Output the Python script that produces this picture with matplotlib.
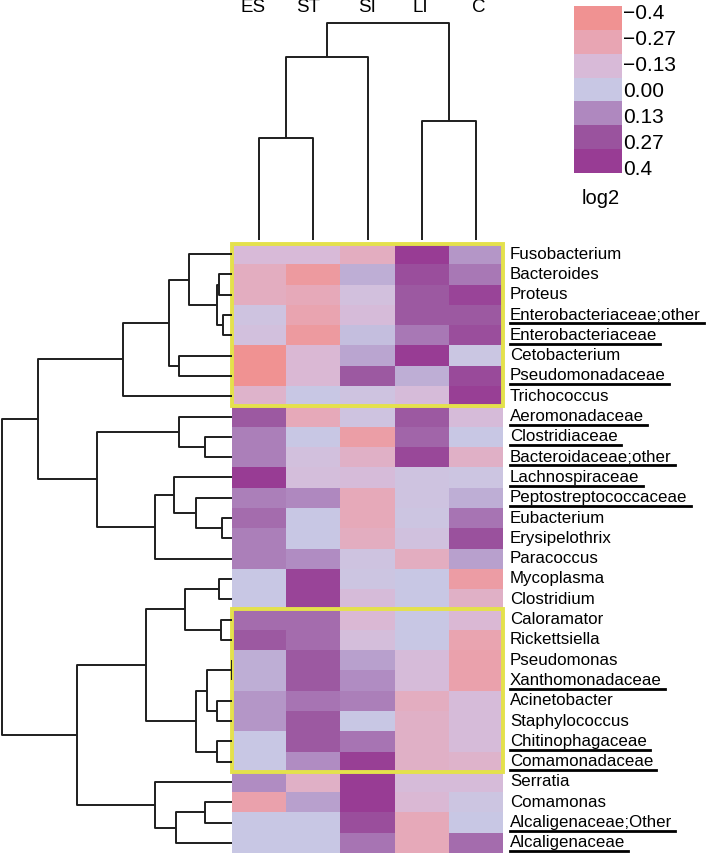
import numpy as np
import matplotlib
matplotlib.use("Agg")
import matplotlib.pyplot as plt
from matplotlib.colors import LinearSegmentedColormap
from matplotlib.lines import Line2D

plt.rcParams['font.family'] = ['Liberation Sans', 'DejaVu Sans']

# Данные
columns = ['ES', 'ST', 'SI', 'LI', 'C']
rows = ['Fusobacterium', 'Bacteroides', 'Proteus', 'Enterobacteriaceae;other',
        'Enterobacteriaceae', 'Cetobacterium', 'Pseudomonadaceae', 'Trichococcus',
        'Aeromonadaceae', 'Clostridiaceae', 'Bacteroidaceae;other', 'Lachnospiraceae',
        'Peptostreptococcaceae', 'Eubacterium', 'Erysipelothrix', 'Paracoccus',
        'Mycoplasma', 'Clostridium', 'Caloramator', 'Rickettsiella', 'Pseudomonas',
        'Xanthomonadaceae', 'Acinetobacter', 'Staphylococcus', 'Chitinophagaceae',
        'Comamonadaceae', 'Serratia', 'Comamonas', 'Alcaligenaceae;Other', 'Alcaligenaceae']
underlined = {'Enterobacteriaceae;other', 'Enterobacteriaceae', 'Pseudomonadaceae',
              'Aeromonadaceae', 'Clostridiaceae', 'Bacteroidaceae;other', 'Lachnospiraceae',
              'Peptostreptococcaceae', 'Xanthomonadaceae', 'Chitinophagaceae',
              'Comamonadaceae', 'Alcaligenaceae;Other', 'Alcaligenaceae'}

values = np.array([
    [-0.13, -0.13, -0.22, 0.40, 0.10],
    [-0.22, -0.35, 0.05, 0.30, 0.17],
    [-0.22, -0.25, -0.08, 0.25, 0.35],
    [-0.05, -0.28, -0.12, 0.25, 0.25],
    [-0.08, -0.35, 0.02, 0.17, 0.30],
    [-0.40, -0.15, 0.07, 0.40, -0.02],
    [-0.40, -0.15, 0.25, 0.05, 0.32],
    [-0.18, 0.00, -0.05, -0.12, 0.38],
    [0.25, -0.25, -0.05, 0.25, -0.12],
    [0.15, 0.00, -0.32, 0.22, 0.00],
    [0.15, -0.08, -0.20, 0.33, -0.20],
    [0.40, -0.10, -0.12, -0.05, -0.03],
    [0.15, 0.13, -0.25, -0.05, 0.05],
    [0.20, 0.00, -0.25, -0.03, 0.18],
    [0.15, 0.00, -0.22, -0.07, 0.28],
    [0.15, 0.12, -0.05, -0.22, 0.08],
    [0.00, 0.35, -0.03, 0.00, -0.33],
    [0.00, 0.35, -0.12, 0.00, -0.20],
    [0.20, 0.20, -0.15, 0.00, -0.15],
    [0.25, 0.20, -0.10, 0.00, -0.28],
    [0.05, 0.25, 0.08, -0.12, -0.30],
    [0.05, 0.25, 0.12, -0.12, -0.30],
    [0.10, 0.18, 0.15, -0.22, -0.12],
    [0.10, 0.25, 0.00, -0.20, -0.12],
    [0.00, 0.25, 0.18, -0.20, -0.12],
    [0.00, 0.12, 0.38, -0.20, -0.18],
    [0.12, -0.20, 0.40, -0.12, -0.12],
    [-0.30, 0.08, 0.40, -0.15, -0.03],
    [0.00, 0.00, 0.30, -0.25, 0.00],
    [0.00, 0.00, 0.18, -0.25, 0.20],
])

# Деревья кластеризации: [высота, левый, правый], листья - индексы
row_tree = [230,
            [194,
             [109, [63, [43, 0, [15, [13, 1, 2], [9, 3, 4]]], [53, 5, 6]], 7],
             [135, [53, 8, [27, 9, 10]], [77, [58, 11, [36, 12, [10, 13, 14]]], 15]]],
            [155,
             [86, [47, [13, 16, 17], [11, 18, 19]],
              [36, [25, [0.5, 20, 21], [15, 22, 23]], [15, 24, 25]]],
             [77, 26, [56, [27, 27, 28], 29]]]]
col_tree = [217, [183, [102, 0, 1], 2], [119, 3, 4]]

cbar_ticks = [-0.4, -0.27, -0.13, 0.00, 0.13, 0.27, 0.4]
cbar_labels = ['\u22120.4', '\u22120.27', '\u22120.13', '0.00', '0.13', '0.27', '0.4']
cbar_colors = ['#F09292', '#E8A6B4', '#D8BAD8', '#C8C8E4', '#AE86BE', '#9A549E', '#983C94']

cmap = LinearSegmentedColormap.from_list('pm', list(zip(np.linspace(0, 1, 7), cbar_colors)))

W, H = 709, 864
fig = plt.figure(figsize=(W / 100, H / 100), dpi=100)


def px_axes(x0, y0, x1, y1):
    return fig.add_axes([x0 / W, 1 - y1 / H, (x1 - x0) / W, (y1 - y0) / H])


line_kw = dict(color='#1e1e1e', lw=1.4, solid_capstyle='butt')


def draw_tree(ax, node, horizontal):
    if not isinstance(node, list):
        return node + 0.5, 0
    h, left, right = node
    pl, hl = draw_tree(ax, left, horizontal)
    pr, hr = draw_tree(ax, right, horizontal)
    if horizontal:
        ax.plot([hl, h, h, hr], [pl, pl, pr, pr], **line_kw)
    else:
        ax.plot([pl, pl, pr, pr], [hl, h, h, hr], **line_kw)
    return (pl + pr) / 2, h


top, bot = 244, 853
left, right = 232, 503

# Тепловая карта
ax = px_axes(left, top, right, bot)
ax.pcolormesh(values, cmap=cmap, vmin=-0.4, vmax=0.4)
ax.set_xlim(0, 5)
ax.set_ylim(len(rows), 0)
ax.axis('off')
for r0, r1 in [(0, 8), (18, 26)]:
    ax.add_patch(plt.Rectangle((0, r0), 5, r1 - r0, fill=False, ec='#E4E14C',
                               lw=2.8, clip_on=False, zorder=5))
texts = []
for i, name in enumerate(rows):
    t = ax.text(5 + 7 / 54.2, i + 0.5, name, fontsize=12.2, va='center', ha='left')
    texts.append(t)

# Дендрограмма строк
axr = px_axes(0, top, left, bot)
draw_tree(axr, row_tree, True)
axr.set_xlim(232, 0)
axr.set_ylim(len(rows), 0)
axr.axis('off')

# Дендрограмма столбцов
axc = px_axes(left, 0, right, 240)
draw_tree(axc, col_tree, False)
axc.set_xlim(0, 5)
axc.set_ylim(0, 240)
axc.axis('off')
label_shift = [-0.12, -0.09, 0, -0.02, 0.05]
for j, c in enumerate(columns):
    axc.text(j + 0.5 + label_shift[j], 232, c, ha='center', va='center',
             fontsize=13.5, clip_on=False)

# Цветовая шкала
axb = px_axes(574, 6, 622, 173)
axb.pcolormesh(np.array(cbar_ticks).reshape(-1, 1), cmap=cmap, vmin=-0.4, vmax=0.4)
axb.set_ylim(len(cbar_ticks), 0)
axb.set_xlim(0, 1)
axb.yaxis.tick_right()
axb.set_yticks(np.linspace(0.25, 6.75, len(cbar_ticks)))
axb.set_yticklabels(cbar_labels, fontsize=15)
axb.tick_params(length=0, pad=1)
axb.set_xticks([])
for s in axb.spines.values():
    s.set_visible(False)
fig.text(601 / W, 1 - 198 / H, 'log2', ha='center', va='center', fontsize=14.5)

# Подчёркивания
fig.canvas.draw()
renderer = fig.canvas.get_renderer()
for t, name in zip(texts, rows):
    if name not in underlined:
        continue
    bb = t.get_window_extent(renderer)
    y = bb.y0 - 0.8
    fig.add_artist(Line2D([bb.x0 / W, (bb.x1 + 3) / W], [y / H, y / H],
                          transform=fig.transFigure, color='black', lw=2.0))

fig.savefig('out.png', dpi=100)
